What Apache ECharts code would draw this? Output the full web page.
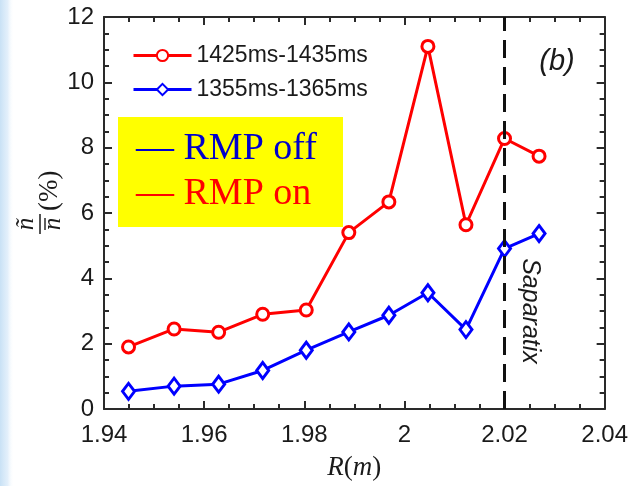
<!DOCTYPE html>
<html>
<head>
<meta charset="utf-8">
<script src="https://cdn.jsdelivr.net/npm/echarts@6.0.0/dist/echarts.min.js"></script>
<style>
  html, body { margin: 0; padding: 0; background: #ffffff; }
  #chart { width: 631px; height: 486px; }
</style>
</head>
<body>
<div id="chart"></div>
<script>
// Major radius of each probe channel (m)
const radius = [1.9449, 1.9540, 1.9629, 1.9717, 1.9804, 1.9889, 1.9969, 2.0047, 2.0123, 2.0200, 2.0269];
// Relative density fluctuation level (%) in each time window
const fluctRmpOn = [1.90, 2.45, 2.35, 2.90, 3.03, 5.40, 6.34, 11.10, 5.64, 8.28, 7.74];
const fluctRmpOff = [0.54, 0.70, 0.76, 1.18, 1.80, 2.36, 2.87, 3.56, 2.43, 4.91, 5.37];
const seriesNames = ['1425ms-1435ms', '1355ms-1365ms'];
const separatrixR = 2.02;

const sans = 'Liberation Sans, Arial, sans-serif';
const serif = 'Liberation Serif, Times New Roman, serif';
const ink = '#1a1a1a';

const chart = echarts.init(document.getElementById('chart'), null, { renderer: 'canvas' });

function frameAxis(extra) {
  return Object.assign({
    type: 'value',
    axisLine: { show: true, onZero: false, lineStyle: { color: '#2a2a2a', width: 2 } },
    axisTick: { show: true, inside: true, length: 8, lineStyle: { color: '#2a2a2a', width: 2 } },
    minorTick: { show: true, splitNumber: 4, length: 5, lineStyle: { color: '#2a2a2a', width: 2 } },
    splitLine: { show: false },
    minorSplitLine: { show: false }
  }, extra);
}

const xCommon = { min: 1.94, max: 2.04, interval: 0.02 };
const yCommon = { min: 0, max: 12, interval: 2 };

chart.setOption({
  backgroundColor: '#ffffff',
  animation: false,
  grid: { left: 104, right: 26, top: 17, bottom: 77, containLabel: false },
  legend: {
    orient: 'vertical',
    left: 127,
    top: 39,
    itemWidth: 58,
    itemHeight: 14,
    itemGap: 11,
    data: seriesNames,
    lineStyle: { width: 3 },
    textStyle: { fontFamily: sans, fontSize: 23, color: ink, padding: [0, 0, 0, 0] }
  },
  xAxis: [
    frameAxis(Object.assign({}, xCommon, {
      position: 'bottom',
      name: '{i|R}{u|(}{i|m}{u|)}',
      nameLocation: 'middle',
      nameGap: 45,
      nameTextStyle: {
        fontFamily: serif, fontSize: 27, color: ink,
        rich: {
          i: { fontFamily: serif, fontStyle: 'italic', fontSize: 27, color: ink },
          u: { fontFamily: serif, fontSize: 27, color: ink }
        }
      },
      axisLabel: {
        fontFamily: sans, fontSize: 24, color: ink, margin: 14,
        formatter: v => String(Math.round(v * 100) / 100)
      }
    })),
    frameAxis(Object.assign({}, xCommon, { position: 'top', axisLabel: { show: false } }))
  ],
  yAxis: [
    frameAxis(Object.assign({}, yCommon, {
      position: 'left',
      axisLabel: { fontFamily: sans, fontSize: 24, color: ink, margin: 10 }
    })),
    frameAxis(Object.assign({}, yCommon, { position: 'right', axisLabel: { show: false } }))
  ],
  series: [
    {
      // separatrix marker, kept underneath the data lines
      type: 'line',
      data: [],
      z: 1,
      silent: true,
      markLine: {
        silent: true,
        symbol: ['none', 'none'],
        label: { show: false },
        lineStyle: { color: '#111', width: 3, type: [18, 9] },
        data: [{ xAxis: separatrixR }]
      }
    },
    {
      name: seriesNames[0],
      type: 'line',
      z: 3,
      data: radius.map((r, i) => [r, fluctRmpOn[i]]),
      symbol: 'circle',
      symbolSize: 12,
      showAllSymbol: true,
      lineStyle: { color: '#ff0000', width: 3 },
      itemStyle: { color: '#ffffff', borderColor: '#ff0000', borderWidth: 3 }
    },
    {
      name: seriesNames[1],
      type: 'line',
      z: 3,
      data: radius.map((r, i) => [r, fluctRmpOff[i]]),
      symbol: 'diamond',
      symbolSize: [12, 16],
      showAllSymbol: true,
      lineStyle: { color: '#0000ff', width: 3 },
      itemStyle: { color: '#ffffff', borderColor: '#0000ff', borderWidth: 3 }
    }
  ],
  graphic: [
    {
      // soft blue edge along the left side
      type: 'rect', left: 0, top: 0, z: -10, silent: true,
      shape: { width: 14, height: 486 },
      style: {
        fill: new echarts.graphic.LinearGradient(0, 0, 1, 0, [
          { offset: 0, color: 'rgba(200,225,245,1)' },
          { offset: 0.55, color: 'rgba(220,236,250,0.8)' },
          { offset: 1, color: 'rgba(255,255,255,0)' }
        ])
      }
    },
    {
      type: 'rect', z: 20, silent: true,
      shape: { x: 118, y: 117, width: 225, height: 110 },
      style: { fill: '#ffff00' }
    },
    {
      type: 'text', z: 21, silent: true,
      style: { x: 136, y: 149, text: '— RMP off', fill: '#0000cc', font: '38px ' + serif, verticalAlign: 'middle' }
    },
    {
      type: 'text', z: 21, silent: true,
      style: { x: 136, y: 194, text: '— RMP on', fill: '#ff0000', font: '38px ' + serif, verticalAlign: 'middle' }
    },
    {
      type: 'text', z: 21, silent: true,
      style: { x: 557, y: 62, text: '(b)', fill: ink, font: 'italic 29px ' + sans, align: 'center', verticalAlign: 'middle' }
    },
    {
      type: 'text', z: 21, silent: true,
      x: 530, y: 311, rotation: -Math.PI / 2,
      style: { x: 0, y: 0, text: 'Saparatix', fill: ink, font: 'italic 25px ' + sans, align: 'center', verticalAlign: 'middle' }
    },
    {
      // y-axis title: tilde-n over n-bar, then (%)
      type: 'group', z: 21, silent: true,
      x: 40, y: 234, rotation: Math.PI / 2,
      children: [
        { type: 'text', style: { x: 10, y: -1, text: 'ñ', fill: ink, font: 'italic 25px ' + serif, align: 'center', verticalAlign: 'bottom' } },
        { type: 'line', shape: { x1: 0, y1: 0, x2: 20, y2: 0 }, style: { stroke: ink, lineWidth: 1.5 } },
        { type: 'line', shape: { x1: 4, y1: 5, x2: 16, y2: 5 }, style: { stroke: ink, lineWidth: 1.4 } },
        { type: 'text', style: { x: 10, y: 1, text: 'n', fill: ink, font: 'italic 25px ' + serif, align: 'center', verticalAlign: 'top' } },
        { type: 'text', style: { x: 23, y: 10, text: '(%)', fill: ink, font: '27px ' + serif, align: 'left', verticalAlign: 'middle' } }
      ]
    }
  ]
});
</script>
</body>
</html>
